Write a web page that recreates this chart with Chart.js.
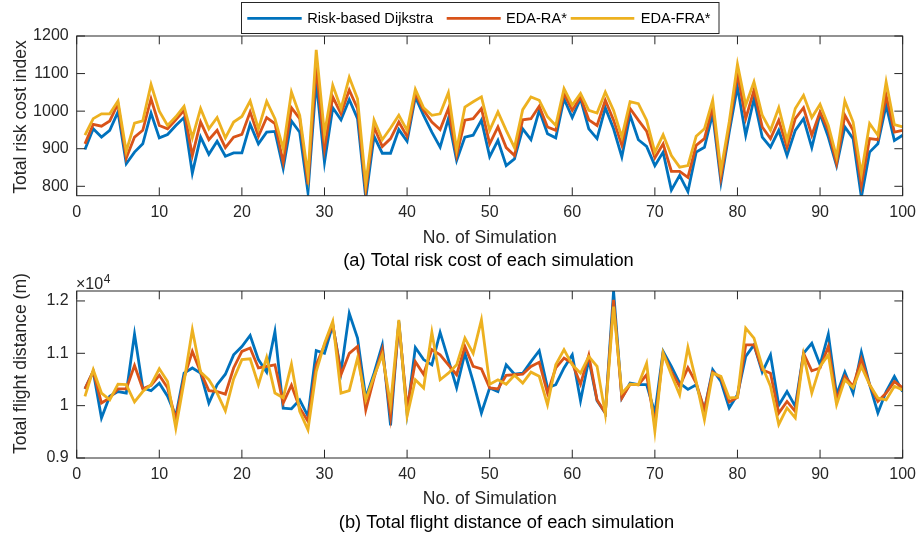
<!DOCTYPE html>
<html>
<head>
<meta charset="utf-8">
<script src="https://cdn.jsdelivr.net/npm/chart.js@4/dist/chart.umd.min.js"></script>
<style>
  html, body { margin: 0; padding: 0; background: #fff; }
  #wrap { position: relative; width: 923px; height: 539px; overflow: hidden; }
  canvas { position: absolute; left: 0; }
  #riskChart { top: 0; }
  #distChart { top: 268px; }
</style>
</head>
<body>
<div id="wrap">
  <canvas id="riskChart" width="923" height="280"></canvas>
  <canvas id="distChart" width="923" height="271"></canvas>
</div>
<script>
// ---- data -------------------------------------------------------------
const simulations = Array.from({ length: 100 }, (_, k) => k + 1);
const seriesNames = ['Risk-based Dijkstra', 'EDA-RA*', 'EDA-FRA*'];

// Total risk cost index per simulation
const riskDijkstra = [
  898, 953, 931, 949, 998, 860, 891, 913, 995, 929,
  938, 962, 983, 835, 931, 885, 920, 880, 889, 889,
  965, 913, 944, 946, 848, 974, 944, 784, 1080, 864,
  1009, 977, 1031, 980, 768, 933, 888, 888, 951, 920,
  1038, 989, 944, 904, 980, 869, 931, 936, 976, 879,
  922, 855, 873, 953, 924, 1002, 940, 929, 1033, 983,
  1033, 953, 927, 1009, 953, 878, 989, 924, 906, 855,
  891, 790, 829, 786, 891, 904, 993, 811, 944, 1065,
  936, 1033, 931, 904, 949, 882, 949, 980, 903, 993,
  931, 855, 958, 927, 771, 891, 913, 1016, 922, 936
];
const riskEdaRA = [
  913, 965, 960, 974, 1020, 875, 931, 949, 1033, 962,
  953, 977, 1002, 882, 971, 924, 949, 903, 931, 938,
  998, 933, 983, 967, 864, 1009, 980, 805, 1120, 900,
  1038, 993, 1056, 1007, 789, 958, 906, 927, 971, 933,
  1047, 1002, 971, 951, 1007, 882, 976, 980, 1007, 913,
  958, 903, 882, 977, 980, 1013, 958, 949, 1047, 1002,
  1038, 977, 962, 1029, 976, 909, 1007, 976, 947, 876,
  913, 840, 840, 824, 909, 927, 1011, 824, 958, 1100,
  980, 1056, 958, 927, 976, 904, 980, 1009, 936, 998,
  949, 861, 989, 949, 802, 927, 924, 1042, 944, 949
];
const riskEdaFRA = [
  936, 980, 993, 993, 1027, 893, 968, 974, 1071, 1000,
  962, 985, 1013, 929, 1007, 953, 983, 929, 971, 986,
  1027, 953, 1026, 980, 900, 1051, 989, 829, 1163, 940,
  1069, 1007, 1090, 1033, 806, 976, 924, 955, 989, 949,
  1058, 1009, 989, 993, 1049, 897, 1011, 1025, 1038, 949,
  998, 949, 903, 1004, 1038, 1029, 985, 962, 1060, 1016,
  1047, 1002, 995, 1051, 1002, 931, 1025, 1020, 976, 891,
  937, 882, 851, 855, 933, 953, 1029, 842, 971, 1125,
  1016, 1078, 989, 949, 1009, 922, 1007, 1042, 983, 1018,
  962, 878, 1027, 971, 833, 967, 936, 1078, 964, 958
];

// Total flight distance (m) per simulation
const distDijkstra = [
  10320, 10650, 9765, 10180, 10270, 10240, 11365, 10337, 10286, 10430,
  10180, 9800, 10620, 10720, 10620, 10050, 10400, 10600, 10970, 11130,
  11340, 10880, 10640, 11416, 9950, 9940, 10110, 9800, 11050, 11000,
  11540, 10650, 11765, 11290, 10146, 10620, 11160, 9625, 11610, 9860,
  11110, 10880, 10780, 11400, 10880, 10340, 11000, 10460, 9860, 10340,
  10270, 10780, 10600, 10620, 10840, 11050, 10340, 10400, 10720, 10970,
  10095, 10880, 10095, 9860, 12190, 10146, 10430, 10400, 10400, 9860,
  11035, 10750, 10430, 10310, 10400, 9920, 10686, 10460, 9956, 10210,
  10940, 11160, 10640, 10970, 10006, 10270, 9987, 11000, 11190, 10780,
  11365, 10210, 10640, 10240, 11020, 10400, 9860, 10270, 10560, 10270
];
const distEdaRA = [
  10320, 10660, 10050, 10146, 10320, 10320, 10768, 10320, 10390, 10580,
  10340, 9730, 10530, 11035, 10640, 10286, 10270, 10220, 10720, 11035,
  11100, 10720, 10750, 10780, 10050, 10390, 9956, 9700, 10780, 11160,
  11560, 10590, 11000, 11130, 9920, 10530, 11070, 9800, 11570, 9956,
  10840, 10600, 11070, 10970, 10780, 10590, 11130, 10750, 10700, 10340,
  10320, 10580, 10590, 10600, 10750, 10830, 10240, 10720, 10910, 10810,
  10410, 10960, 10110, 9860, 12020, 10146, 10410, 10400, 10590, 9640,
  11000, 10650, 10370, 10725, 10430, 9920, 10640, 10530, 10070, 10160,
  11160, 11160, 10686, 10620, 9860, 10080, 9890, 11000, 10667, 10720,
  11130, 10110, 10560, 10370, 10890, 10400, 10080, 10240, 10460, 10340
];
const distEdaFRA = [
  10178, 10686, 10240, 10110, 10410, 10400, 10070, 10270, 10400, 10705,
  10460, 9570, 10460, 11448, 10640, 10495, 10240, 9900, 10510, 10880,
  10895, 10400, 10920, 10240, 10150, 10790, 9890, 9540, 10650, 11190,
  11610, 10240, 10286, 10910, 10110, 10560, 10970, 10020, 11640, 9800,
  10495, 10337, 11400, 10495, 10620, 10780, 11290, 11000, 11640, 10410,
  10495, 10410, 10580, 10430, 10640, 10560, 10020, 10780, 11070, 10780,
  10620, 10940, 10750, 9840, 11890, 10240, 10410, 10400, 10810, 9510,
  11000, 10590, 10210, 11115, 10460, 9730, 10620, 10560, 10146, 10160,
  11480, 11290, 10750, 10370, 9640, 9956, 9765, 10970, 10240, 10750,
  10970, 10020, 10495, 10340, 10750, 10400, 10146, 10110, 10370, 10300
];

// axis ticks
const xTicks = [0, 10, 20, 30, 40, 50, 60, 70, 80, 90, 100];
const riskTicks = [800, 900, 1000, 1100, 1200];
const distTicks = [9000, 10000, 11000, 12000];

// ---- styling ----------------------------------------------------------
const FONT = '"Liberation Sans", Arial, Helvetica, sans-serif';
const AXIS = '#262626';
const COLORS = ['#0072BD', '#D95319', '#EDB120'];
const PLOT_LEFT = 76.7;
const PLOT_RIGHT = 909.7;
const TICK_LEN = 8.3;

function makeDatasets(series) {
  return series.map((values, s) => ({
    label: seriesNames[s],
    data: simulations.map((x, k) => ({ x, y: values[k] })),
    borderColor: COLORS[s],
    backgroundColor: COLORS[s],
    borderWidth: 2.8,
    pointRadius: 0,
    tension: 0,
    fill: false,
    clip: 0,
    order: 3 - s
  }));
}

// axes box with inward tick marks on all four sides, plus extra annotations
function boxPlugin(extra) {
  return {
    id: 'axesBox',
    afterDatasetsDraw(chart) {
      const { ctx, chartArea: a, scales } = chart;
      ctx.save();
      ctx.strokeStyle = AXIS;
      ctx.lineWidth = 1;
      ctx.beginPath();
      scales.x.ticks.forEach(t => {
        const px = scales.x.getPixelForValue(t.value);
        ctx.moveTo(px, a.bottom); ctx.lineTo(px, a.bottom - TICK_LEN);
        ctx.moveTo(px, a.top); ctx.lineTo(px, a.top + TICK_LEN);
      });
      scales.y.ticks.forEach(t => {
        const py = scales.y.getPixelForValue(t.value);
        ctx.moveTo(a.left, py); ctx.lineTo(a.left + TICK_LEN, py);
        ctx.moveTo(a.right, py); ctx.lineTo(a.right - TICK_LEN, py);
      });
      ctx.stroke();
      ctx.strokeRect(a.left, a.top, a.right - a.left, a.bottom - a.top);
      ctx.restore();
      if (extra) extra(chart);
    }
  };
}

function drawCaption(ctx, text, cx, baseline) {
  ctx.save();
  ctx.fillStyle = '#000';
  ctx.font = '18.3px ' + FONT;
  ctx.textAlign = 'center';
  ctx.textBaseline = 'alphabetic';
  ctx.fillText(text, cx, baseline);
  ctx.restore();
}

function drawVerticalTitle(ctx, text, cx, cy) {
  ctx.save();
  ctx.translate(cx, cy);
  ctx.rotate(-Math.PI / 2);
  ctx.fillStyle = AXIS;
  ctx.font = '17.6px ' + FONT;
  ctx.textAlign = 'center';
  ctx.textBaseline = 'middle';
  ctx.fillText(text, 0, 0);
  ctx.restore();
}

function drawLegend(chart) {
  const ctx = chart.ctx;
  const items = [
    { x1: 247.3, x2: 301.7, tx: 307.3 },
    { x1: 446.7, x2: 500.7, tx: 506.0 },
    { x1: 570.7, x2: 634.3, tx: 640.7 }
  ];
  ctx.save();
  ctx.fillStyle = '#fff';
  ctx.fillRect(241.5, 2.5, 477.5, 31);
  ctx.strokeStyle = AXIS;
  ctx.lineWidth = 1;
  ctx.strokeRect(241.5, 2.5, 477.5, 31);
  ctx.font = '14.6px ' + FONT;
  ctx.textBaseline = 'middle';
  ctx.textAlign = 'left';
  chart.data.datasets.forEach((ds, i) => {
    const it = items[i];
    ctx.strokeStyle = ds.borderColor;
    ctx.lineWidth = 2.8;
    ctx.beginPath();
    ctx.moveTo(it.x1, 18.3);
    ctx.lineTo(it.x2, 18.3);
    ctx.stroke();
    ctx.fillStyle = '#000';
    ctx.fillText(ds.label, it.tx, 18.5);
  });
  ctx.restore();
}

function chartOptions(cfg) {
  return {
    responsive: false,
    animation: false,
    devicePixelRatio: 1,
    layout: { padding: { top: cfg.padTop, right: 923 - PLOT_RIGHT, left: 0, bottom: 0 } },
    plugins: { legend: { display: false }, tooltip: { enabled: false }, title: { display: false } },
    scales: {
      x: {
        type: 'linear',
        min: 0,
        max: 100,
        grid: { display: false, drawTicks: false },
        border: { display: false },
        afterBuildTicks: s => { s.ticks = xTicks.map(v => ({ value: v })); },
        afterFit: s => { s.height = cfg.xHeight; },
        ticks: { padding: 7, color: AXIS, font: { family: FONT, size: 16 }, maxRotation: 0, autoSkip: false },
        title: {
          display: true, text: 'No. of Simulation', color: AXIS,
          font: { family: FONT, size: 17.6 }, padding: { top: 0, bottom: cfg.xTitlePad }
        }
      },
      y: {
        type: 'linear',
        min: cfg.yMin,
        max: cfg.yMax,
        grid: { display: false, drawTicks: false },
        border: { display: false },
        afterBuildTicks: s => { s.ticks = cfg.yTicks.map(v => ({ value: v })); },
        afterFit: s => { s.width = PLOT_LEFT; },
        ticks: { padding: 8, color: AXIS, font: { family: FONT, size: 16 }, callback: cfg.yFormat },
        title: { display: false }
      }
    }
  };
}

// (a) total risk cost
new Chart(document.getElementById('riskChart'), {
  type: 'line',
  data: { datasets: makeDatasets([riskDijkstra, riskEdaRA, riskEdaFRA]) },
  options: chartOptions({
    padTop: 36, xHeight: 84.3, xTitlePad: 31.2,
    yMin: 775, yMax: 1200, yTicks: riskTicks,
    yFormat: v => String(v)
  }),
  plugins: [boxPlugin(chart => {
    drawVerticalTitle(chart.ctx, 'Total risk cost index', 21, 117);
    drawLegend(chart);
    drawCaption(chart.ctx, '(a) Total risk cost of each simulation', 488.5, 266);
  })]
});

// (b) total flight distance, labelled in units of 10^4 m
new Chart(document.getElementById('distChart'), {
  type: 'line',
  data: { datasets: makeDatasets([distDijkstra, distEdaRA, distEdaFRA]) },
  options: chartOptions({
    padTop: 23, xHeight: 81, xTitlePad: 29.5,
    yMin: 9000, yMax: 12190, yTicks: distTicks,
    yFormat: v => String(+(v / 10000).toFixed(1))
  }),
  plugins: [boxPlugin(chart => {
    const ctx = chart.ctx;
    drawVerticalTitle(ctx, 'Total flight distance (m)', 21, 95.5);
    ctx.save();
    ctx.fillStyle = AXIS;
    ctx.textAlign = 'left';
    ctx.textBaseline = 'alphabetic';
    ctx.font = '16px ' + FONT;
    ctx.fillText('\u00d710', 76, 21);
    const w = ctx.measureText('\u00d710').width;
    ctx.font = '12px ' + FONT;
    ctx.fillText('4', 76 + w + 0.5, 15);
    ctx.restore();
    drawCaption(ctx, '(b) Total flight distance of each simulation', 506.5, 260);
  })]
});
</script>
</body>
</html>
